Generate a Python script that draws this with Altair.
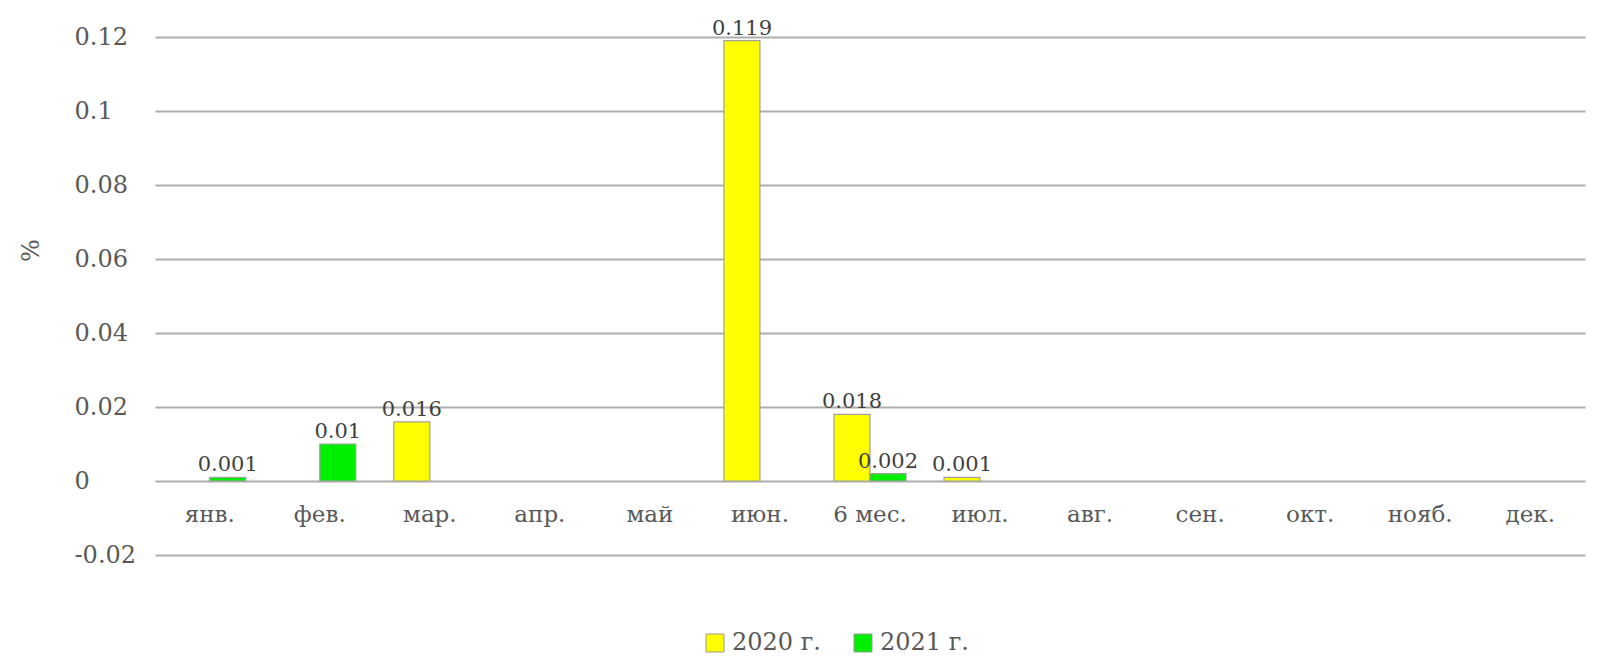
import altair as alt
import pandas as pd

months = ["янв.", "фев.", "мар.", "апр.", "май", "июн.", "6 мес.", "июл.",
          "авг.", "сен.", "окт.", "нояб.", "дек."]
years = ["2020 г.", "2021 г."]
cats_2020 = ["мар.", "июн.", "6 мес.", "июл."]
vals_2020 = [0.016, 0.119, 0.018, 0.001]
cats_2021 = ["янв.", "фев.", "6 мес."]
vals_2021 = [0.001, 0.01, 0.002]
y_ticks = [-0.02, 0.0, 0.02, 0.04, 0.06, 0.08, 0.1, 0.12]

rows = [{"month": m, "year": years[0], "value": v} for m, v in zip(cats_2020, vals_2020)]
rows += [{"month": m, "year": years[1], "value": v} for m, v in zip(cats_2021, vals_2021)]
df = pd.DataFrame(rows)

FONT = "DejaVu Serif"
TXT = "#595959"

x = alt.X("month:N", sort=months, scale=alt.Scale(domain=months, paddingInner=0.345, paddingOuter=0.17),
          axis=alt.Axis(title=None, domain=False, ticks=False, labelAngle=0, offset=-74,
                        labelPadding=22, labelFont=FONT, labelFontSize=23, labelColor=TXT))
xoff = alt.XOffset("year:N", sort=years, scale=alt.Scale(domain=years, paddingInner=0, paddingOuter=0))
y = alt.Y("value:Q", scale=alt.Scale(domain=[-0.02, 0.12], nice=False, zero=False),
          axis=alt.Axis(values=y_ticks,
                        labelExpr="replace(format(datum.value, '.2~f'), '\u2212', '-')",
                        title="%", domain=False, ticks=False,
                        labelAlign="left", labelPadding=81, labelFont=FONT, labelFontSize=24,
                        labelColor=TXT, gridColor="#ADADAD", gridWidth=2,
                        titleX=-124, titleY=213, titleBaseline="middle", titleFont=FONT,
                        titleFontSize=24, titleFontWeight="normal", titleColor=TXT))

color = alt.Color("year:N", sort=years,
                  scale=alt.Scale(domain=years, range=["#FFFF00", "#00EE00"]),
                  legend=alt.Legend(title=None, orient="none", direction="horizontal",
                                    legendX=548, legendY=594, padding=0,
                                    symbolType="square", symbolSize=324,
                                    symbolStrokeColor="#9A9A9A", symbolStrokeWidth=1,
                                    labelFont=FONT, labelFontSize=24, labelColor=TXT,
                                    labelOffset=5, columnPadding=30))

bars = alt.Chart(df).mark_bar(stroke="#A0A0A0", strokeWidth=1.2).encode(
    x=x, xOffset=xoff, y=y, color=color)

labels = alt.Chart(df).mark_text(baseline="bottom", dy=-2, font=FONT, fontSize=21,
                                 color="#404040").encode(
    x=alt.X("month:N", sort=months), xOffset=alt.XOffset("year:N", sort=years),
    y="value:Q", text=alt.Text("value:Q", format="~g"))

chart = alt.layer(bars, labels).properties(
    width=1430, height=518,
    background="white",
    autosize=alt.AutoSizeParams(type="none"),
    padding={"left": 147, "top": 29, "right": 4, "bottom": 100},
).configure_view(stroke=None)

chart.save("out.html", embed_options={"renderer": "svg", "actions": False})
